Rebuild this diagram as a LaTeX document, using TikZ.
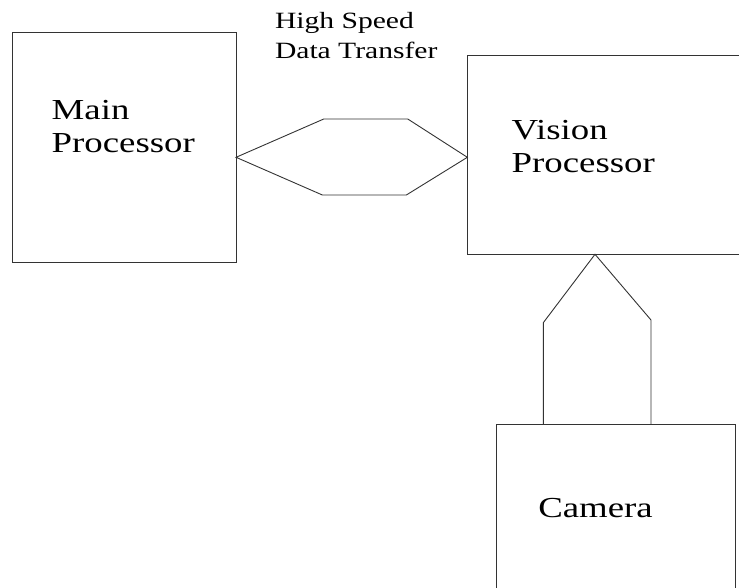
\documentclass[tikz,border=0pt]{standalone}
\usepackage{fontspec}
\newfontfamily\labelfont[FakeStretch=1.27]{Liberation Serif}

\begin{document}
\begin{tikzpicture}[x=1pt,y=-1pt,line width=0.9pt,
    every node/.style={inner sep=0pt,outer sep=0pt},
    unit/.style={draw=black!80,minimum width=#1},
    link/.style={draw=black!80,line join=miter},
    lbl/.style={anchor=north west,align=left,font=\labelfont\fontsize{29}{33}\selectfont}]
  \path[clip] (0,0) rectangle (739,588);
  % blocks
  \node[unit=223.3pt,minimum height=230.4pt] (main) at (124.4,147.5) {};
  \node[unit=299.7pt,minimum height=198.6pt] (vision) at (617.2,155) {};
  \node[unit=239pt,minimum height=216pt] (camera) at (616.2,532) {};
  % labels
  \node[lbl] (mainlbl) at (51.7,100.5) {Main\\Processor};
  \node[lbl] (visionlbl) at (511.7,120) {Vision\\Processor};
  \node[lbl] (cameralbl) at (538.3,498.5) {Camera};
  \node[lbl,font=\labelfont\fontsize{23.3}{29.5}\selectfont] (buslbl) at (275,12.5) {High Speed\\Data Transfer};
  % bus between the processors
  \coordinate (busL) at (main.east |- 0,157.3);
  \coordinate (busR) at (vision.west |- busL);
  \draw[link] (busL) -- ++(87.7,-38.3) -- ++(84,0) -- (busR) -- ++(-61,37.7) -- ++(-84,0) -- cycle;
  % camera feed
  \coordinate (camtip) at (vision.south -| 595,0);
  \coordinate (camL) at (camera.north -| 543.3,0);
  \coordinate (camR) at (camera.north -| 651,0);
  \draw[link] (camL) -- (543.3,322.7) -- (camtip) -- (651,320) -- (camR);
\end{tikzpicture}
\end{document}
